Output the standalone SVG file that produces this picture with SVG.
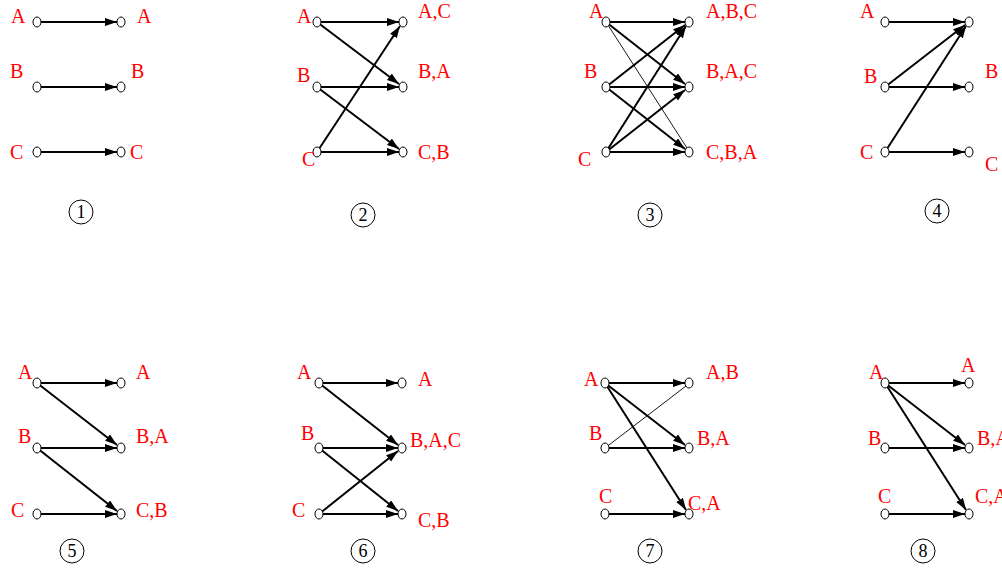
<svg xmlns="http://www.w3.org/2000/svg" width="1002" height="569" viewBox="0 0 1002 569">
<style>
.e{stroke:#000;stroke-width:2;fill:none;marker-end:url(#ar)}
.t{stroke:#000;stroke-width:0.9;fill:none}
.n{fill:#fff;stroke:#000;stroke-width:1}
.l{font-family:"Liberation Serif","Times New Roman",serif;font-size:20px;fill:#ff0000}
.c{fill:#fff;stroke:#000;stroke-width:1}
.d{font-family:"Liberation Serif","Times New Roman",serif;font-size:18px;fill:#000;text-anchor:middle}
</style>
<defs>
<marker id="ar" markerUnits="userSpaceOnUse" markerWidth="13" markerHeight="9" refX="12" refY="4" orient="auto">
<path d="M0,0 L12,4 L0,8 z" fill="#000"/>
</marker>
</defs>
<rect width="1002" height="569" fill="#fff"/>
<g id="connectors">
<!-- panel 1 -->
<line class="e" x1="37" y1="22" x2="117" y2="22"/>
<line class="e" x1="37" y1="87" x2="117" y2="87"/>
<line class="e" x1="37" y1="152" x2="117" y2="152"/>
<!-- panel 2 -->
<line class="e" x1="317" y1="22" x2="399" y2="22"/>
<line class="e" x1="317" y1="22" x2="399" y2="84"/>
<line class="e" x1="317" y1="87" x2="399" y2="87"/>
<line class="e" x1="317" y1="87" x2="399" y2="149"/>
<line class="e" x1="317" y1="152" x2="399" y2="152"/>
<line class="e" x1="317" y1="152" x2="400" y2="26"/>
<!-- panel 3 -->
<line class="e" x1="606" y1="22" x2="685" y2="22"/>
<line class="e" x1="606" y1="22" x2="685" y2="84"/>
<line class="t" x1="606" y1="22" x2="687" y2="148"/>
<line class="e" x1="606" y1="87" x2="685" y2="25"/>
<line class="e" x1="606" y1="87" x2="685" y2="87"/>
<line class="e" x1="606" y1="87" x2="685" y2="149"/>
<line class="e" x1="606" y1="152" x2="686" y2="26"/>
<line class="e" x1="606" y1="152" x2="685" y2="90"/>
<line class="e" x1="606" y1="152" x2="685" y2="152"/>
<!-- panel 4 -->
<line class="e" x1="885" y1="22" x2="965" y2="22"/>
<line class="e" x1="885" y1="87" x2="965" y2="25"/>
<line class="e" x1="885" y1="87" x2="965" y2="87"/>
<line class="e" x1="885" y1="152" x2="966" y2="26"/>
<line class="e" x1="885" y1="152" x2="965" y2="152"/>
<!-- panel 5 -->
<line class="e" x1="37" y1="383" x2="117" y2="383"/>
<line class="e" x1="37" y1="383" x2="117" y2="445"/>
<line class="e" x1="37" y1="448" x2="117" y2="448"/>
<line class="e" x1="37" y1="448" x2="117" y2="511"/>
<line class="e" x1="37" y1="514" x2="117" y2="514"/>
<!-- panel 6 -->
<line class="e" x1="319" y1="383" x2="398" y2="383"/>
<line class="e" x1="319" y1="383" x2="398" y2="445"/>
<line class="e" x1="319" y1="448" x2="398" y2="448"/>
<line class="e" x1="319" y1="448" x2="398" y2="511"/>
<line class="e" x1="319" y1="514" x2="398" y2="451"/>
<line class="e" x1="319" y1="514" x2="398" y2="514"/>
<!-- panel 7 -->
<line class="e" x1="605" y1="383" x2="685" y2="383"/>
<line class="e" x1="605" y1="383" x2="685" y2="445"/>
<line class="e" x1="605" y1="383" x2="686" y2="510"/>
<line class="t" x1="605" y1="448" x2="686" y2="386"/>
<line class="e" x1="605" y1="448" x2="685" y2="448"/>
<line class="e" x1="605" y1="514" x2="685" y2="514"/>
<!-- panel 8 -->
<line class="e" x1="885" y1="383" x2="965" y2="383"/>
<line class="e" x1="885" y1="383" x2="965" y2="445"/>
<line class="e" x1="885" y1="383" x2="966" y2="510"/>
<line class="e" x1="885" y1="448" x2="965" y2="448"/>
<line class="e" x1="885" y1="514" x2="965" y2="514"/>
</g>
<!-- panel 1 nodes -->
<g id="p1-LA"><ellipse class="n" cx="37" cy="22" rx="4" ry="5"/><text class="l" x="11" y="23">A</text></g>
<g id="p1-LB"><ellipse class="n" cx="37" cy="87" rx="4" ry="5"/><text class="l" x="10" y="78">B</text></g>
<g id="p1-LC"><ellipse class="n" cx="37" cy="152" rx="4" ry="5"/><text class="l" x="10" y="159">C</text></g>
<g id="p1-RA"><ellipse class="n" cx="121" cy="22" rx="4" ry="5"/><text class="l" x="137" y="23">A</text></g>
<g id="p1-RB"><ellipse class="n" cx="121" cy="87" rx="4" ry="5"/><text class="l" x="131" y="78">B</text></g>
<g id="p1-RC"><ellipse class="n" cx="121" cy="152" rx="4" ry="5"/><text class="l" x="130" y="159">C</text></g>
<g id="p1-num"><circle class="c" cx="81" cy="212" r="12"/><text class="d" x="81" y="218">1</text></g>
<!-- panel 2 nodes -->
<g id="p2-LA"><ellipse class="n" cx="317" cy="22" rx="4" ry="5"/><text class="l" x="297" y="23">A</text></g>
<g id="p2-LB"><ellipse class="n" cx="317" cy="87" rx="4" ry="5"/><text class="l" x="297" y="82">B</text></g>
<g id="p2-LC"><ellipse class="n" cx="317" cy="152" rx="4" ry="5"/><text class="l" x="302" y="166">C</text></g>
<g id="p2-RA"><ellipse class="n" cx="403" cy="22" rx="4" ry="5"/><text class="l" x="418" y="18">A,C</text></g>
<g id="p2-RB"><ellipse class="n" cx="403" cy="87" rx="4" ry="5"/><text class="l" x="418" y="78">B,A</text></g>
<g id="p2-RC"><ellipse class="n" cx="403" cy="152" rx="4" ry="5"/><text class="l" x="418" y="159">C,B</text></g>
<g id="p2-num"><circle class="c" cx="363" cy="215" r="12"/><text class="d" x="363" y="221">2</text></g>
<!-- panel 3 nodes -->
<g id="p3-LA"><ellipse class="n" cx="606" cy="22" rx="4" ry="5"/><text class="l" x="589" y="18">A</text></g>
<g id="p3-LB"><ellipse class="n" cx="606" cy="87" rx="4" ry="5"/><text class="l" x="584" y="78">B</text></g>
<g id="p3-LC"><ellipse class="n" cx="606" cy="152" rx="4" ry="5"/><text class="l" x="578" y="166">C</text></g>
<g id="p3-RA"><ellipse class="n" cx="689" cy="22" rx="4" ry="5"/><text class="l" x="706" y="18">A,B,C</text></g>
<g id="p3-RB"><ellipse class="n" cx="689" cy="87" rx="4" ry="5"/><text class="l" x="706" y="78">B,A,C</text></g>
<g id="p3-RC"><ellipse class="n" cx="689" cy="152" rx="4" ry="5"/><text class="l" x="706" y="159">C,B,A</text></g>
<g id="p3-num"><circle class="c" cx="650" cy="215" r="12"/><text class="d" x="650" y="221">3</text></g>
<!-- panel 4 nodes -->
<g id="p4-LA"><ellipse class="n" cx="885" cy="22" rx="4" ry="5"/><text class="l" x="860" y="18">A</text></g>
<g id="p4-LB"><ellipse class="n" cx="885" cy="87" rx="4" ry="5"/><text class="l" x="864" y="83">B</text></g>
<g id="p4-LC"><ellipse class="n" cx="885" cy="152" rx="4" ry="5"/><text class="l" x="860" y="159">C</text></g>
<g id="p4-RA"><ellipse class="n" cx="969" cy="22" rx="4" ry="5"/></g>
<g id="p4-RB"><ellipse class="n" cx="969" cy="87" rx="4" ry="5"/><text class="l" x="985" y="78">B</text></g>
<g id="p4-RC"><ellipse class="n" cx="969" cy="152" rx="4" ry="5"/><text class="l" x="985" y="171">C</text></g>
<g id="p4-num"><circle class="c" cx="937" cy="211" r="12"/><text class="d" x="937" y="217">4</text></g>
<!-- panel 5 nodes -->
<g id="p5-LA"><ellipse class="n" cx="37" cy="383" rx="4" ry="5"/><text class="l" x="18" y="379">A</text></g>
<g id="p5-LB"><ellipse class="n" cx="37" cy="448" rx="4" ry="5"/><text class="l" x="18" y="443">B</text></g>
<g id="p5-LC"><ellipse class="n" cx="37" cy="514" rx="4" ry="5"/><text class="l" x="11" y="517">C</text></g>
<g id="p5-RA"><ellipse class="n" cx="121" cy="383" rx="4" ry="5"/><text class="l" x="136" y="379">A</text></g>
<g id="p5-RB"><ellipse class="n" cx="121" cy="448" rx="4" ry="5"/><text class="l" x="136" y="443">B,A</text></g>
<g id="p5-RC"><ellipse class="n" cx="121" cy="514" rx="4" ry="5"/><text class="l" x="136" y="517">C,B</text></g>
<g id="p5-num"><circle class="c" cx="72" cy="551" r="12"/><text class="d" x="72" y="557">5</text></g>
<!-- panel 6 nodes -->
<g id="p6-LA"><ellipse class="n" cx="319" cy="383" rx="4" ry="5"/><text class="l" x="297" y="379">A</text></g>
<g id="p6-LB"><ellipse class="n" cx="319" cy="448" rx="4" ry="5"/><text class="l" x="301" y="440">B</text></g>
<g id="p6-LC"><ellipse class="n" cx="319" cy="514" rx="4" ry="5"/><text class="l" x="292" y="517">C</text></g>
<g id="p6-RA"><ellipse class="n" cx="402" cy="383" rx="4" ry="5"/><text class="l" x="418" y="386">A</text></g>
<g id="p6-RB"><ellipse class="n" cx="402" cy="448" rx="4" ry="5"/><text class="l" x="410" y="447">B,A,C</text></g>
<g id="p6-RC"><ellipse class="n" cx="402" cy="514" rx="4" ry="5"/><text class="l" x="418" y="527">C,B</text></g>
<g id="p6-num"><circle class="c" cx="363" cy="551" r="12"/><text class="d" x="363" y="557">6</text></g>
<!-- panel 7 nodes -->
<g id="p7-LA"><ellipse class="n" cx="605" cy="383" rx="4" ry="5"/><text class="l" x="584" y="386">A</text></g>
<g id="p7-LB"><ellipse class="n" cx="605" cy="448" rx="4" ry="5"/><text class="l" x="589" y="440">B</text></g>
<g id="p7-LC"><ellipse class="n" cx="605" cy="514" rx="4" ry="5"/><text class="l" x="599" y="503">C</text></g>
<g id="p7-RA"><ellipse class="n" cx="689" cy="383" rx="4" ry="5"/><text class="l" x="706" y="379">A,B</text></g>
<g id="p7-RB"><ellipse class="n" cx="689" cy="448" rx="4" ry="5"/><text class="l" x="697" y="445">B,A</text></g>
<g id="p7-RC"><ellipse class="n" cx="689" cy="514" rx="4" ry="5"/><text class="l" x="688" y="510">C,A</text></g>
<g id="p7-num"><circle class="c" cx="650" cy="551" r="12"/><text class="d" x="650" y="557">7</text></g>
<!-- panel 8 nodes -->
<g id="p8-LA"><ellipse class="n" cx="885" cy="383" rx="4" ry="5"/><text class="l" x="869" y="379">A</text></g>
<g id="p8-LB"><ellipse class="n" cx="885" cy="448" rx="4" ry="5"/><text class="l" x="868" y="445">B</text></g>
<g id="p8-LC"><ellipse class="n" cx="885" cy="514" rx="4" ry="5"/><text class="l" x="878" y="503">C</text></g>
<g id="p8-RA"><ellipse class="n" cx="969" cy="383" rx="4" ry="5"/><text class="l" x="961" y="372">A</text></g>
<g id="p8-RB"><ellipse class="n" cx="969" cy="448" rx="4" ry="5"/><text class="l" x="977" y="445">B,A</text></g>
<g id="p8-RC"><ellipse class="n" cx="969" cy="514" rx="4" ry="5"/><text class="l" x="975" y="503">C,A</text></g>
<g id="p8-num"><circle class="c" cx="923" cy="551" r="12"/><text class="d" x="923" y="557">8</text></g>
</svg>
